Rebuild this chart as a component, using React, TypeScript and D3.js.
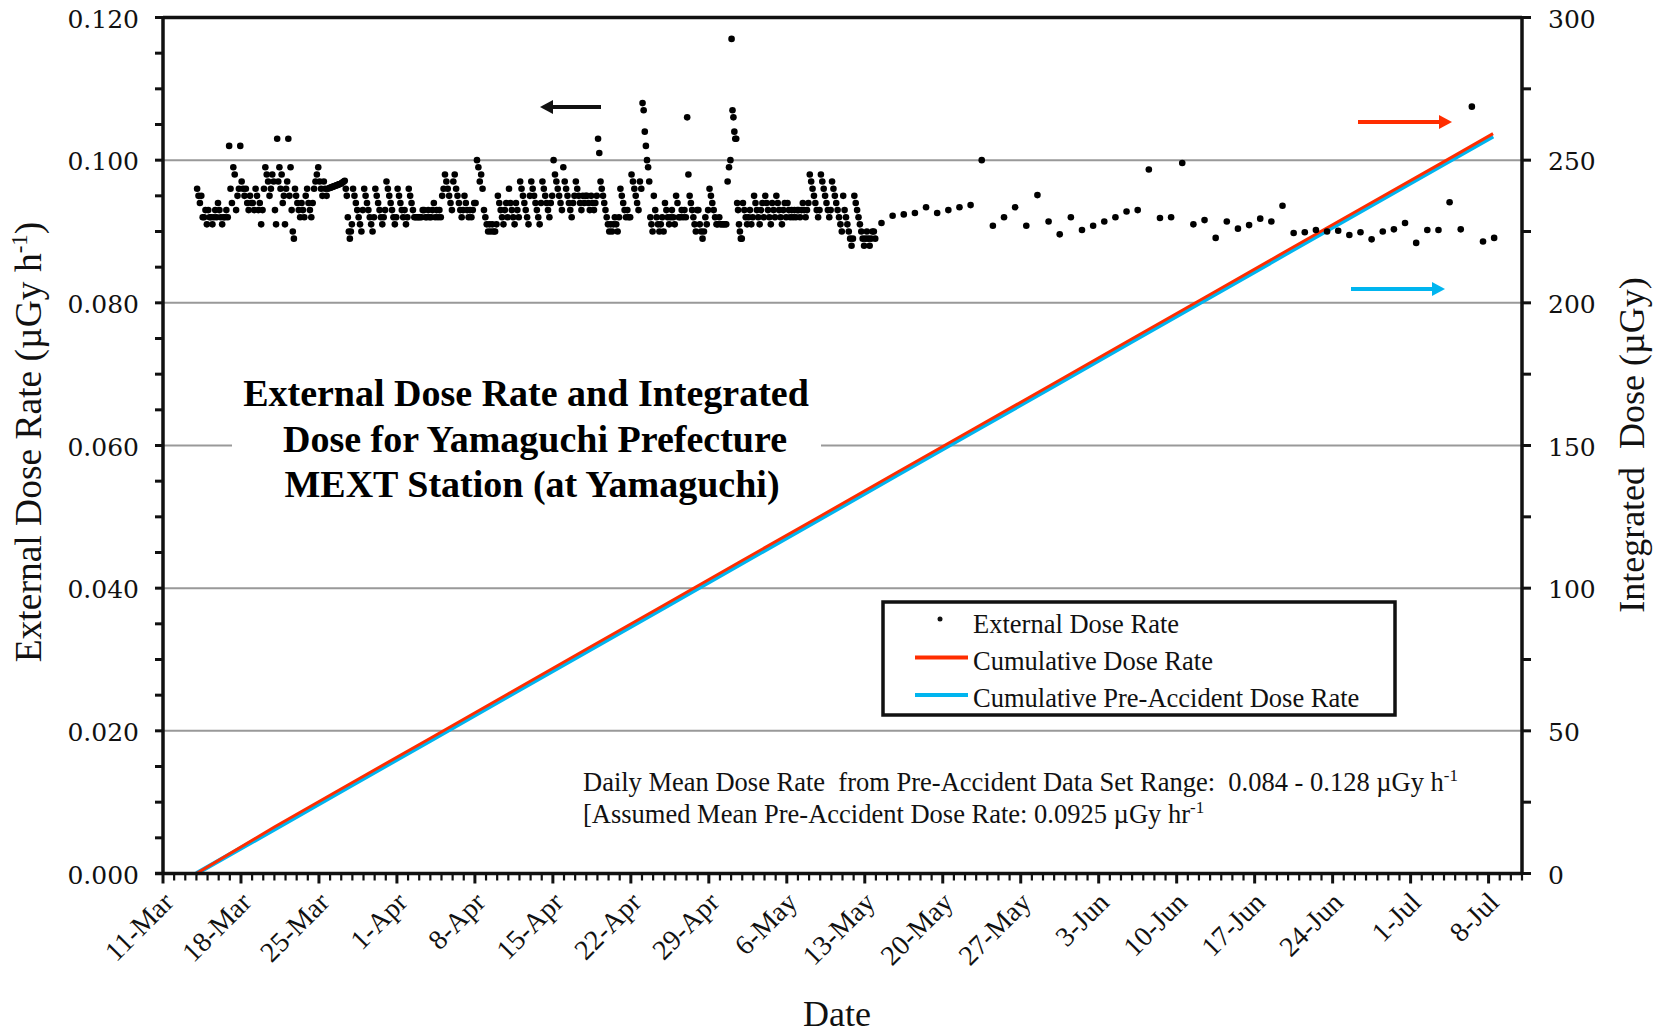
import React from 'react';
import * as d3 from 'd3';

// ---------- data ----------
const dayTickLabels = ['11-Mar','18-Mar','25-Mar','1-Apr','8-Apr','15-Apr','22-Apr','29-Apr','6-May','13-May','20-May','27-May','3-Jun','10-Jun','17-Jun','24-Jun','1-Jul','8-Jul'];
const leftTickLabels = ['0.000','0.020','0.040','0.060','0.080','0.100','0.120'];
const leftTickValues = [0, 0.02, 0.04, 0.06, 0.08, 0.1, 0.12];
const rightTickValues = [0, 50, 100, 150, 200, 250, 300];

// day index 0 = 11-Mar. Dense (multi-reading) data begins 14-Mar; values in nGy/h (x0.001 uGy/h)
const denseStartDay = 3;
const denseRates: number[][] = [
  [96,95,94,95,92,92,93,91],
  [93,92,92,91,92,93,92,94],
  [93,92,91,92,92,93,92,102],
  [96,94,99,98,93,95,96,102],
  [97,96,95,96,94,93,95,94],
  [94,93,96,95,93,94,91,93],
  [96,99,98,97,95,96,98,97],
  [93,91,103,97,99,96,98,94,95,91],
  [96,97,103,95,99,93,90,89,96,95],
  [94,93,92,94,93,92,95,96],
  [94,93,92,94,96,97,98,99],
  [97,96,95,97,96,95,96.0,96.1],
  [96.15,96.2,96.25,96.3,96.35,96.4,96.45,96.5,96.55,96.6,96.65,96.7],
  [96.8,96.9,97.0,97.1,96,95,92,90,89,90,91],
  [96,95,94,93,92,91,90,93],
  [96,95,94,93,92,91,90,92],
  [96,95,94,93,92,91,92,93],
  [97,96,95,94,93,92,91,92],
  [96,95,94,93,92,93,91,92],
  [96,95,94,93,92,92,92,92],
  [92,92,93,93,92,92,93,92],
  [92,93,94,92,93,92,93,92],
  [95,96,98,97,96,95,94,93],
  [97,98,96,95,94,93,92,93],
  [95,94,93,92,93,92,93,94],
  [94,100,99,97,98,96,93,92],
  [91,90,91,90,91,90,90,91],
  [95,94,93,92,91,93,94,92],
  [96,94,93,92,91,94,93,92],
  [97,96,95,94,93,92,91,95],
  [97,96,95,94,93,92,91,94],
  [97,96,95,94,93,92,94,95],
  [100,98,97,96,95,94,93,99],
  [97,96,95,94,93,92,94,95],
  [97,96,95,94,93,95,94,95],
  [95,94,93,95,94,93,94,95],
  [103,101,97,96,95,94,93,92,91],
  [90,91,90,91,92,91,90,92],
  [96,95,94,93,92,93,92,92],
  [98,97,96,95,94,93,97,96],
  [108,107,104,102,100,99,97,92,91,90],
  [95,93,92,91,90,91,92,90],
  [94,93,92,91,92,93,92,91],
  [95,94,92,92,93,92,93,92],
  [106,98,95,94,93,92,91,90,93],
  [93,91,90,89,90,92,91,93],
  [96,95,94,93,92,91,91,92],
  [91,91,91,91,91,97,99,100],
  [117,107,106,104,103,103,94,93,91,90,89,89],
  [94,93,92,91,92,93,91,92],
  [95,94,93,92,91,93,94,92],
  [95,94,93,92,91,94,93,92],
  [95,94,93,92,91,93,94,92],
  [94,93,92,93,92,93,92,93],
  [93,92,93,94,93,92,93,94],
  [98,97,96,95,94,93,92,93],
  [98,97,96,95,94,93,92,93],
  [97,96,95,94,93,92,91,90],
  [95,93,92,91,90,89,88,89],
  [95,94,93,92,91,90,89,88],
  [89,90,89,88,89,90,90,89],
];

// daily readings from 14-May (day 64)
const dailyStartDay = 64;
const dailyRates = [91.2,92.2,92.4,92.6,93.4,92.6,93.0,93.4,93.7,100.0,90.8,92.0,93.4,90.8,95.1,91.4,89.6,92.0,90.2,90.8,91.4,92.0,92.8,93.0,98.7,91.9,92.0,99.6,91.0,91.6,89.1,91.4,90.4,90.9,91.8,91.4,93.6,89.8,89.9,90.2,90.0,90.1,89.5,89.9,88.9,90.0,90.3,91.2,88.4,90.2,90.2,94.1,90.3,107.5,88.6,89.1];

// cumulative doses (uGy)
const cumDays = [3,10,17,24,31,38,45,52,59,66,73,80,87,94,101,108,115,119.4];
const cumDose = [0,16.3,31.9,47.4,63.0,78.6,94.1,109.7,125.2,140.8,156.3,171.8,187.4,202.9,218.5,234.0,249.5,259.3];
const cumPreDose = [0,15.5,31.1,46.6,62.2,77.7,93.2,108.8,124.3,139.9,155.4,170.9,186.5,202.0,217.6,233.1,248.6,258.4];

// ---------- layout ----------
const W = 1668, H = 1033;
const L = 163, R = 1522, T = 17.5, B = 873.5;
const x = d3.scaleLinear().domain([0, 122]).range([L, R]);
const yL = d3.scaleLinear().domain([0, 0.12]).range([B, T]);
const yR = d3.scaleLinear().domain([0, 300]).range([B, T]);

const SERIF = "'Liberation Serif', 'Times New Roman', serif";
const TICKF = "'DejaVu Serif', serif";
const RED = '#ff2d00';
const BLUE = '#00b5ef';

export default function App() {
  const densePts = denseRates.flatMap((day, i) =>
    day.map((v, j) => ({ d: denseStartDay + i + (j + 0.5) / day.length, v: v / 1000 })));
  const dailyPts = dailyRates.map((v, i) => ({ d: dailyStartDay + i + 0.5, v: v / 1000 }));
  const pts = [...densePts, ...dailyPts];

  const line = d3.line<number>()
    .x((_, i) => x(cumDays[i]))
    .y((v) => yR(v));

  const minorL = d3.range(0, 0.12001, 0.005);
  const minorR = d3.range(0, 300.1, 25);
  const dayTicks = d3.range(0, 123, 1);

  const arrow = (x1: number, x2: number, y: number, color: string) => {
    const dir = x2 > x1 ? 1 : -1;
    const head = 13;
    return (
      <g>
        <line x1={x1} x2={x2 - dir * head} y1={y} y2={y} stroke={color} strokeWidth={4} />
        <polygon points={`${x2},${y} ${x2 - dir * head},${y - 7} ${x2 - dir * head},${y + 7}`} fill={color} />
      </g>
    );
  };

  return (
    <svg width={W} height={H} style={{ position: 'absolute', left: 0, top: 0, display: 'block', background: '#fff' }}>
      <rect x={0} y={0} width={W} height={H} fill="#fff" />
      {/* gridlines */}
      {leftTickValues.filter(v => v > 0 && v < 0.12).map(v => (
        <line key={v} x1={L} x2={R} y1={yL(v)} y2={yL(v)} stroke="#999" strokeWidth={2} />
      ))}
      {/* title white box */}
      <rect x={232} y={368} width={589} height={140} fill="#fff" />
      <g fontFamily={SERIF} fontWeight="bold" fontSize={38} textAnchor="middle" fill="#000">
        <text x={526} y={406}>External Dose Rate and Integrated</text>
        <text x={535} y={452}>Dose for Yamaguchi Prefecture</text>
        <text x={532} y={497}>MEXT Station (at Yamaguchi)</text>
      </g>

      {/* cumulative lines */}
      <path d={line(cumPreDose) || ''} fill="none" stroke={BLUE} strokeWidth={4.5} />
      <path d={line(cumDose) || ''} fill="none" stroke={RED} strokeWidth={3} />

      {/* scatter */}
      {pts.map((p, i) => (
        <circle key={i} cx={x(p.d)} cy={yL(p.v)} r={3.3} fill="#000" />
      ))}

      {/* axes frame */}
      <g stroke="#111" strokeWidth={3.5} fill="none">
        <line x1={L} x2={R} y1={T} y2={T} />
        <line x1={L} x2={L} y1={T - 1.5} y2={B + 1.5} />
        <line x1={R} x2={R} y1={T - 1.5} y2={B + 1.5} />
        <line x1={L - 8} x2={R} y1={B} y2={B} />
      </g>
      {/* left ticks */}
      {minorL.map((v, i) => (
        <line key={'l' + i} x1={L - 8} x2={L} y1={yL(v)} y2={yL(v)} stroke="#111" strokeWidth={3} />
      ))}
      {/* right ticks */}
      {minorR.map((v, i) => (
        <line key={'r' + i} x1={R} x2={R + 9} y1={yR(v)} y2={yR(v)} stroke="#111" strokeWidth={3} />
      ))}
      {/* bottom ticks */}
      {dayTicks.map(d => (
        <line key={'b' + d} x1={x(d)} x2={x(d)} y1={B} y2={B + (d % 7 === 0 ? 10 : 7)} stroke="#111" strokeWidth={d % 7 === 0 ? 3 : 2.2} />
      ))}

      {/* left tick labels */}
      <g fontFamily={TICKF} fontSize={25} textAnchor="end" fill="#111">
        {leftTickValues.map((v, i) => (
          <text key={v} x={139} y={yL(v) + 10}>{leftTickLabels[i]}</text>
        ))}
      </g>
      {/* right tick labels */}
      <g fontFamily={TICKF} fontSize={25} textAnchor="start" fill="#111">
        {rightTickValues.map(v => (
          <text key={v} x={1548} y={yR(v) + 10}>{v}</text>
        ))}
      </g>
      {/* bottom tick labels */}
      <g fontFamily={SERIF} fontSize={28} textAnchor="end" fill="#111">
        {dayTickLabels.map((lab, i) => {
          const tx = x(i * 7) + 12, ty = 904;
          return <text key={lab} x={tx} y={ty} transform={`rotate(-45 ${tx} ${ty})`}>{lab}</text>;
        })}
      </g>

      {/* axis titles */}
      <text x={837} y={1026} fontFamily={SERIF} fontSize={36} textAnchor="middle" fill="#111">Date</text>
      <text transform="translate(41,442) rotate(-90)" fontFamily={SERIF} fontSize={37.5} textAnchor="middle" fill="#111">
        External Dose Rate (µGy h<tspan fontSize={23} dy={-14}>-1</tspan><tspan dy={14}>)</tspan>
      </text>
      <text transform="translate(1644,445) rotate(-90)" fontFamily={SERIF} fontSize={36} textAnchor="middle" fill="#111" xmlSpace="preserve">
        {'Integrated  Dose (µGy)'}
      </text>

      {/* arrows */}
      {arrow(601, 540, 107, '#111')}
      {arrow(1358, 1452, 122, RED)}
      {arrow(1351, 1445, 289, BLUE)}

      {/* legend */}
      <rect x={883} y={602} width={512} height={113} fill="#fff" stroke="#111" strokeWidth={3.5} />
      <circle cx={940} cy={619} r={2.5} fill="#111" />
      <line x1={915} x2={968} y1={657.5} y2={657.5} stroke={RED} strokeWidth={4} />
      <line x1={915} x2={968} y1={695} y2={695} stroke={BLUE} strokeWidth={4} />
      <g fontFamily={SERIF} fontSize={26.5} fill="#111">
        <text x={973} y={633}>External Dose Rate</text>
        <text x={973} y={670}>Cumulative Dose Rate</text>
        <text x={973} y={707}>Cumulative Pre-Accident Dose Rate</text>
      </g>

      {/* notes */}
      <g fontFamily={SERIF} fontSize={26.5} fill="#111">
        <text x={583} y={791} xmlSpace="preserve">
          {'Daily Mean Dose Rate  from Pre-Accident Data Set Range:  0.084 - 0.128 µGy h'}
          <tspan fontSize={17} dy={-10}>-1</tspan>
        </text>
        <text x={583} y={823} xmlSpace="preserve">
          {'[Assumed Mean Pre-Accident Dose Rate: 0.0925 µGy hr'}
          <tspan fontSize={17} dy={-10}>-1</tspan>
        </text>
      </g>
    </svg>
  );
}
